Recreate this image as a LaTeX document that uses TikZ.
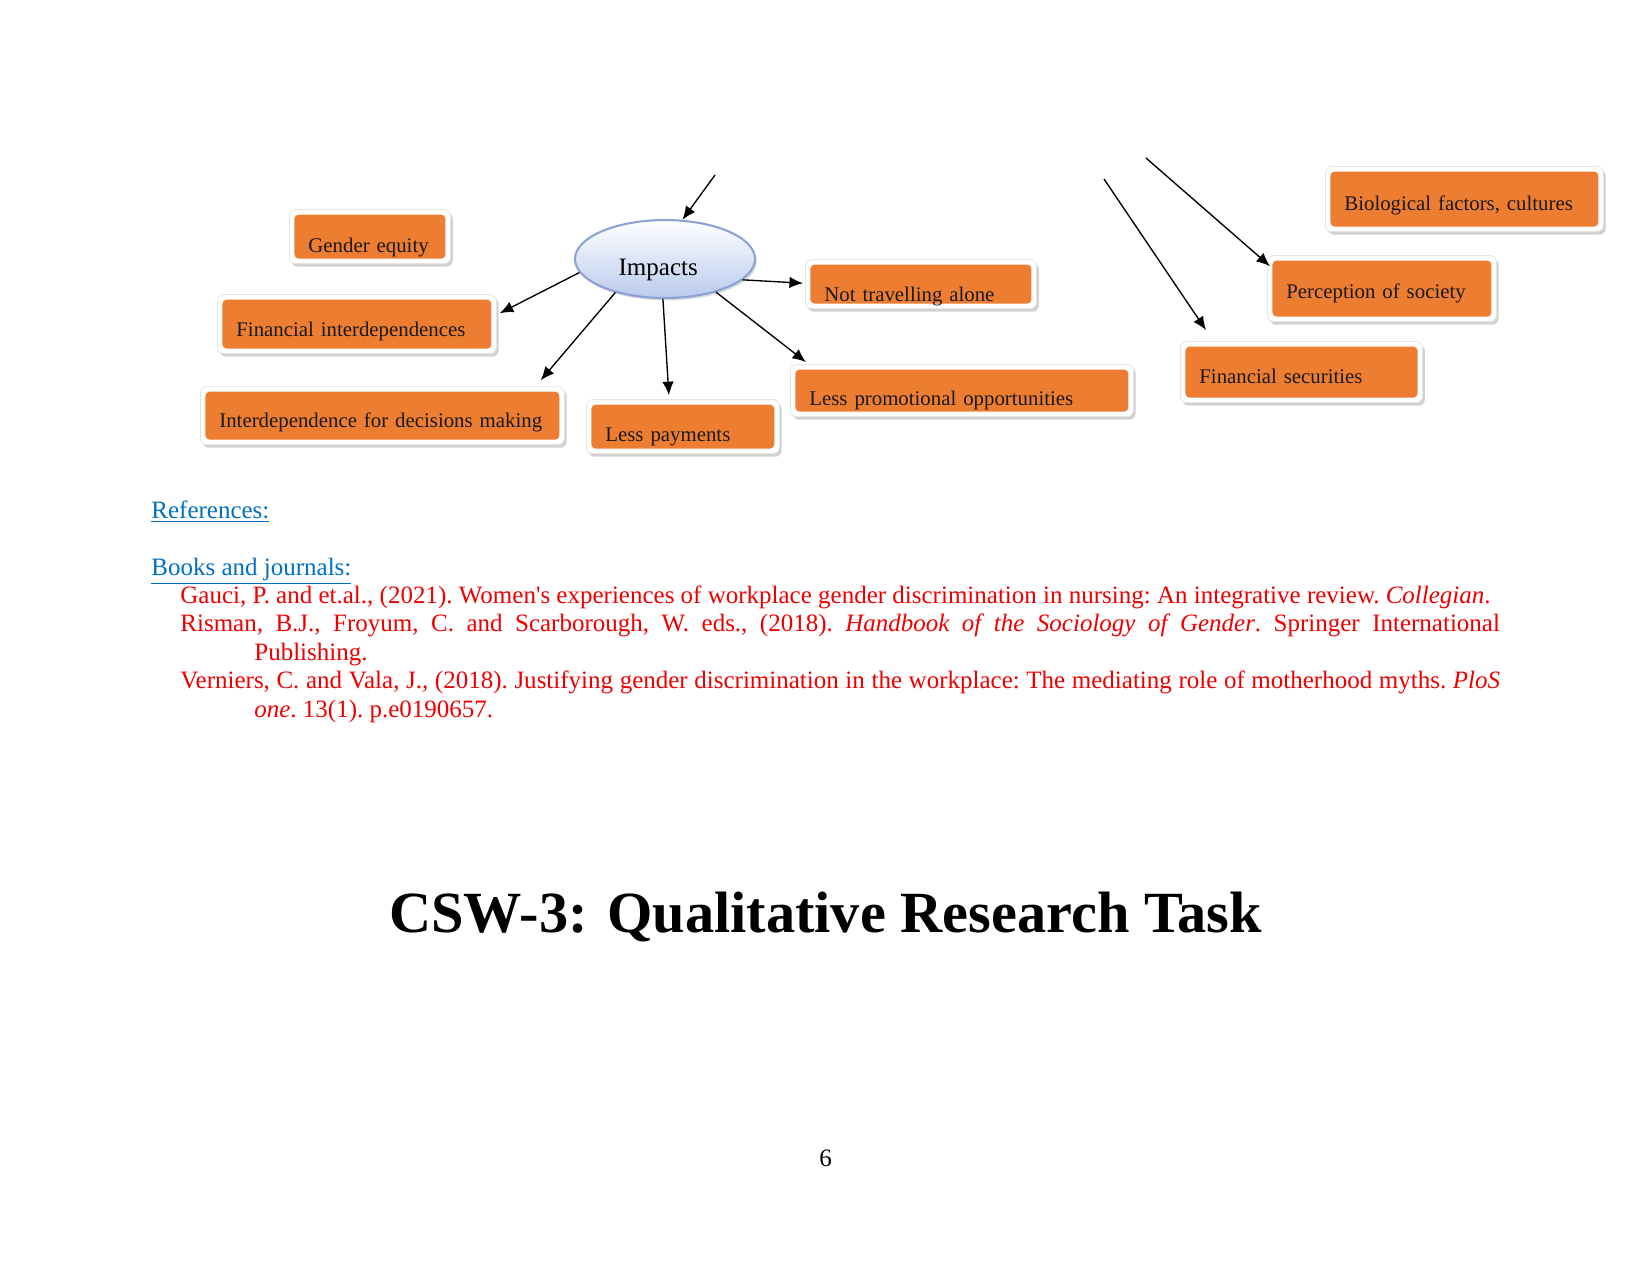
\documentclass[tikz,border=0pt]{standalone}
\usepackage{fontspec}
\setmainfont{Liberation Serif}
\usetikzlibrary{shapes.geometric, shadows, arrows.meta}

\definecolor{boxorange}{RGB}{237,125,49}
\definecolor{ovalblue}{RGB}{186,203,238}
\definecolor{ovalline}{RGB}{140,162,214}
\definecolor{linkblue}{RGB}{0,112,192}
\definecolor{refred}{RGB}{238,0,0}

\tikzset{
  ibox/.style={rectangle, rounded corners=3pt, fill=white, draw=black!10, line width=0.4pt,
    inner xsep=9.1pt, inner ysep=2.4pt, align=left,
    font=\fontsize{10}{12}\selectfont, text=black!90,
    drop shadow={shadow xshift=1.1pt, shadow yshift=-1.5pt, opacity=0.3, fill=black!60},
    path picture={\fill[boxorange, rounded corners=2pt]
      ([shift={(2.4pt,2.4pt)}]path picture bounding box.south west) rectangle
      ([shift={(-2.4pt,-2.4pt)}]path picture bounding box.north east);},
    anchor=south west},
  arr/.style={->, line width=0.65pt}
}

\begin{document}
\begin{tikzpicture}[x=0.48pt, y=-0.48pt, >={Latex[length=6.5pt,width=5.5pt]}]

    % page, 1651 x 1275 px
    \useasboundingbox (0,0) rectangle (1651,1275);

    % 1. Central oval
    \node[ellipse, minimum width=86.4pt, minimum height=37.4pt, inner sep=0pt,
          top color=white, bottom color=ovalblue, draw=ovalline, line width=1pt,
          drop shadow={shadow xshift=0.8pt, shadow yshift=-1.2pt, opacity=0.3, fill=black!50},
          text height=16pt, text depth=0.6pt, text width=44.5pt, align=left,
          font=\fontsize{12}{14}\selectfont] (imp) at (665,259) {Impacts};

    % 2. Boxes (lower left corner of the white rim given)
    \node[ibox, text width=59.1pt, text height=18.2pt, text depth=2.9pt] (ge) at (289,264) {Gender equity};
    \node[ibox, text width=115.7pt, text height=17.7pt, text depth=5.8pt] (fin) at (217,354) {Financial interdependences};
    \node[ibox, text width=156.5pt, text height=17.2pt, text depth=5.8pt] (dec) at (200,445) {Interdependence for decisions making};
    \node[ibox, text width=74.4pt, text height=17.7pt, text depth=3.4pt] (pay) at (586,454) {Less payments};
    \node[ibox, text width=146.4pt, text height=17.3pt, text depth=2.9pt] (promo) at (790,417) {Less promotional opportunities};
    \node[ibox, text width=92.7pt, text height=17.7pt, text depth=1.0pt] (trav) at (805,309) {Not travelling alone};
    \node[ibox, text width=115.2pt, text height=18.7pt, text depth=7.7pt] (bio) at (1325,232) {Biological factors, cultures};
    \node[ibox, text width=91.7pt, text height=18.3pt, text depth=8.6pt] (soc) at (1267,322) {Perception of society};
    \node[ibox, text width=98.0pt, text height=17.8pt, text depth=6.7pt] (sec) at (1180,403) {Financial securities};

    % 3. Arrows
    \coordinate (top1) at (715,175);
    \coordinate (top2) at (1104,179);
    \coordinate (top3) at (1146,158);

    \draw[arr] (top1) -- (imp.66);
    \draw[arr] (imp.189) -- ([shift={(3,19)}]fin.north east);
    \draw[arr] (imp.214) -- ([shift={(-24,-6)}]dec.north east);
    \draw[arr] (imp.267) -- ([shift={(-14,-4)}]pay.north);
    \draw[arr] (imp.345) -- ([shift={(-2,24)}]trav.north west);
    \draw[arr] (imp.327) -- ([shift={(16,-2)}]promo.north west);
    \draw[arr] (top2) -- ([shift={(26,-11)}]sec.north west);
    \draw[arr] (top3) -- ([shift={(3,11)}]soc.north west);

    % 4. References
    \node[anchor=base west, inner sep=0pt, text=linkblue, font=\fontsize{12}{14}\selectfont]
        (refs) at (151,518) {\underline{References:}};
    \node[anchor=base west, inner sep=0pt, text=linkblue, font=\fontsize{12}{14}\selectfont]
        (books) at (151,575) {\underline{Books and journals:}};

    \node[anchor=north west, inner sep=0pt, text width=633.4pt, align=justify, text=refred,
          font=\fontsize{12}{13.7}\selectfont\frenchspacing] (list) at (180,585) {%
        \hangindent=35.5pt\hangafter=1 Gauci, P. and et.al., (2021). Women\textquotesingle s experiences of workplace gender discrimination in nursing: An integrative review. \textit{Collegian}.\par
        \hangindent=35.5pt\hangafter=1 Risman, B.J., Froyum, C. and Scarborough, W. eds., (2018). \textit{Handbook of the Sociology of Gender}. Springer International\linebreak Publishing.\par
        \hangindent=35.5pt\hangafter=1 Verniers, C. and Vala, J., (2018). Justifying gender discrimination in the workplace: The mediating role of motherhood myths. \textit{PloS}\linebreak \textit{one}. 13(1). p.e0190657.\par};

    % 5. Title and page number
    \node[anchor=base, inner sep=0pt, font=\fontsize{28}{32}\selectfont\bfseries]
        (title) at (825.5,932) {CSW-3: Qualitative Research Task};
    \node[anchor=base, inner sep=0pt, font=\fontsize{12}{14}\selectfont] (pg) at (825.5,1166) {6};

\end{tikzpicture}
\end{document}
